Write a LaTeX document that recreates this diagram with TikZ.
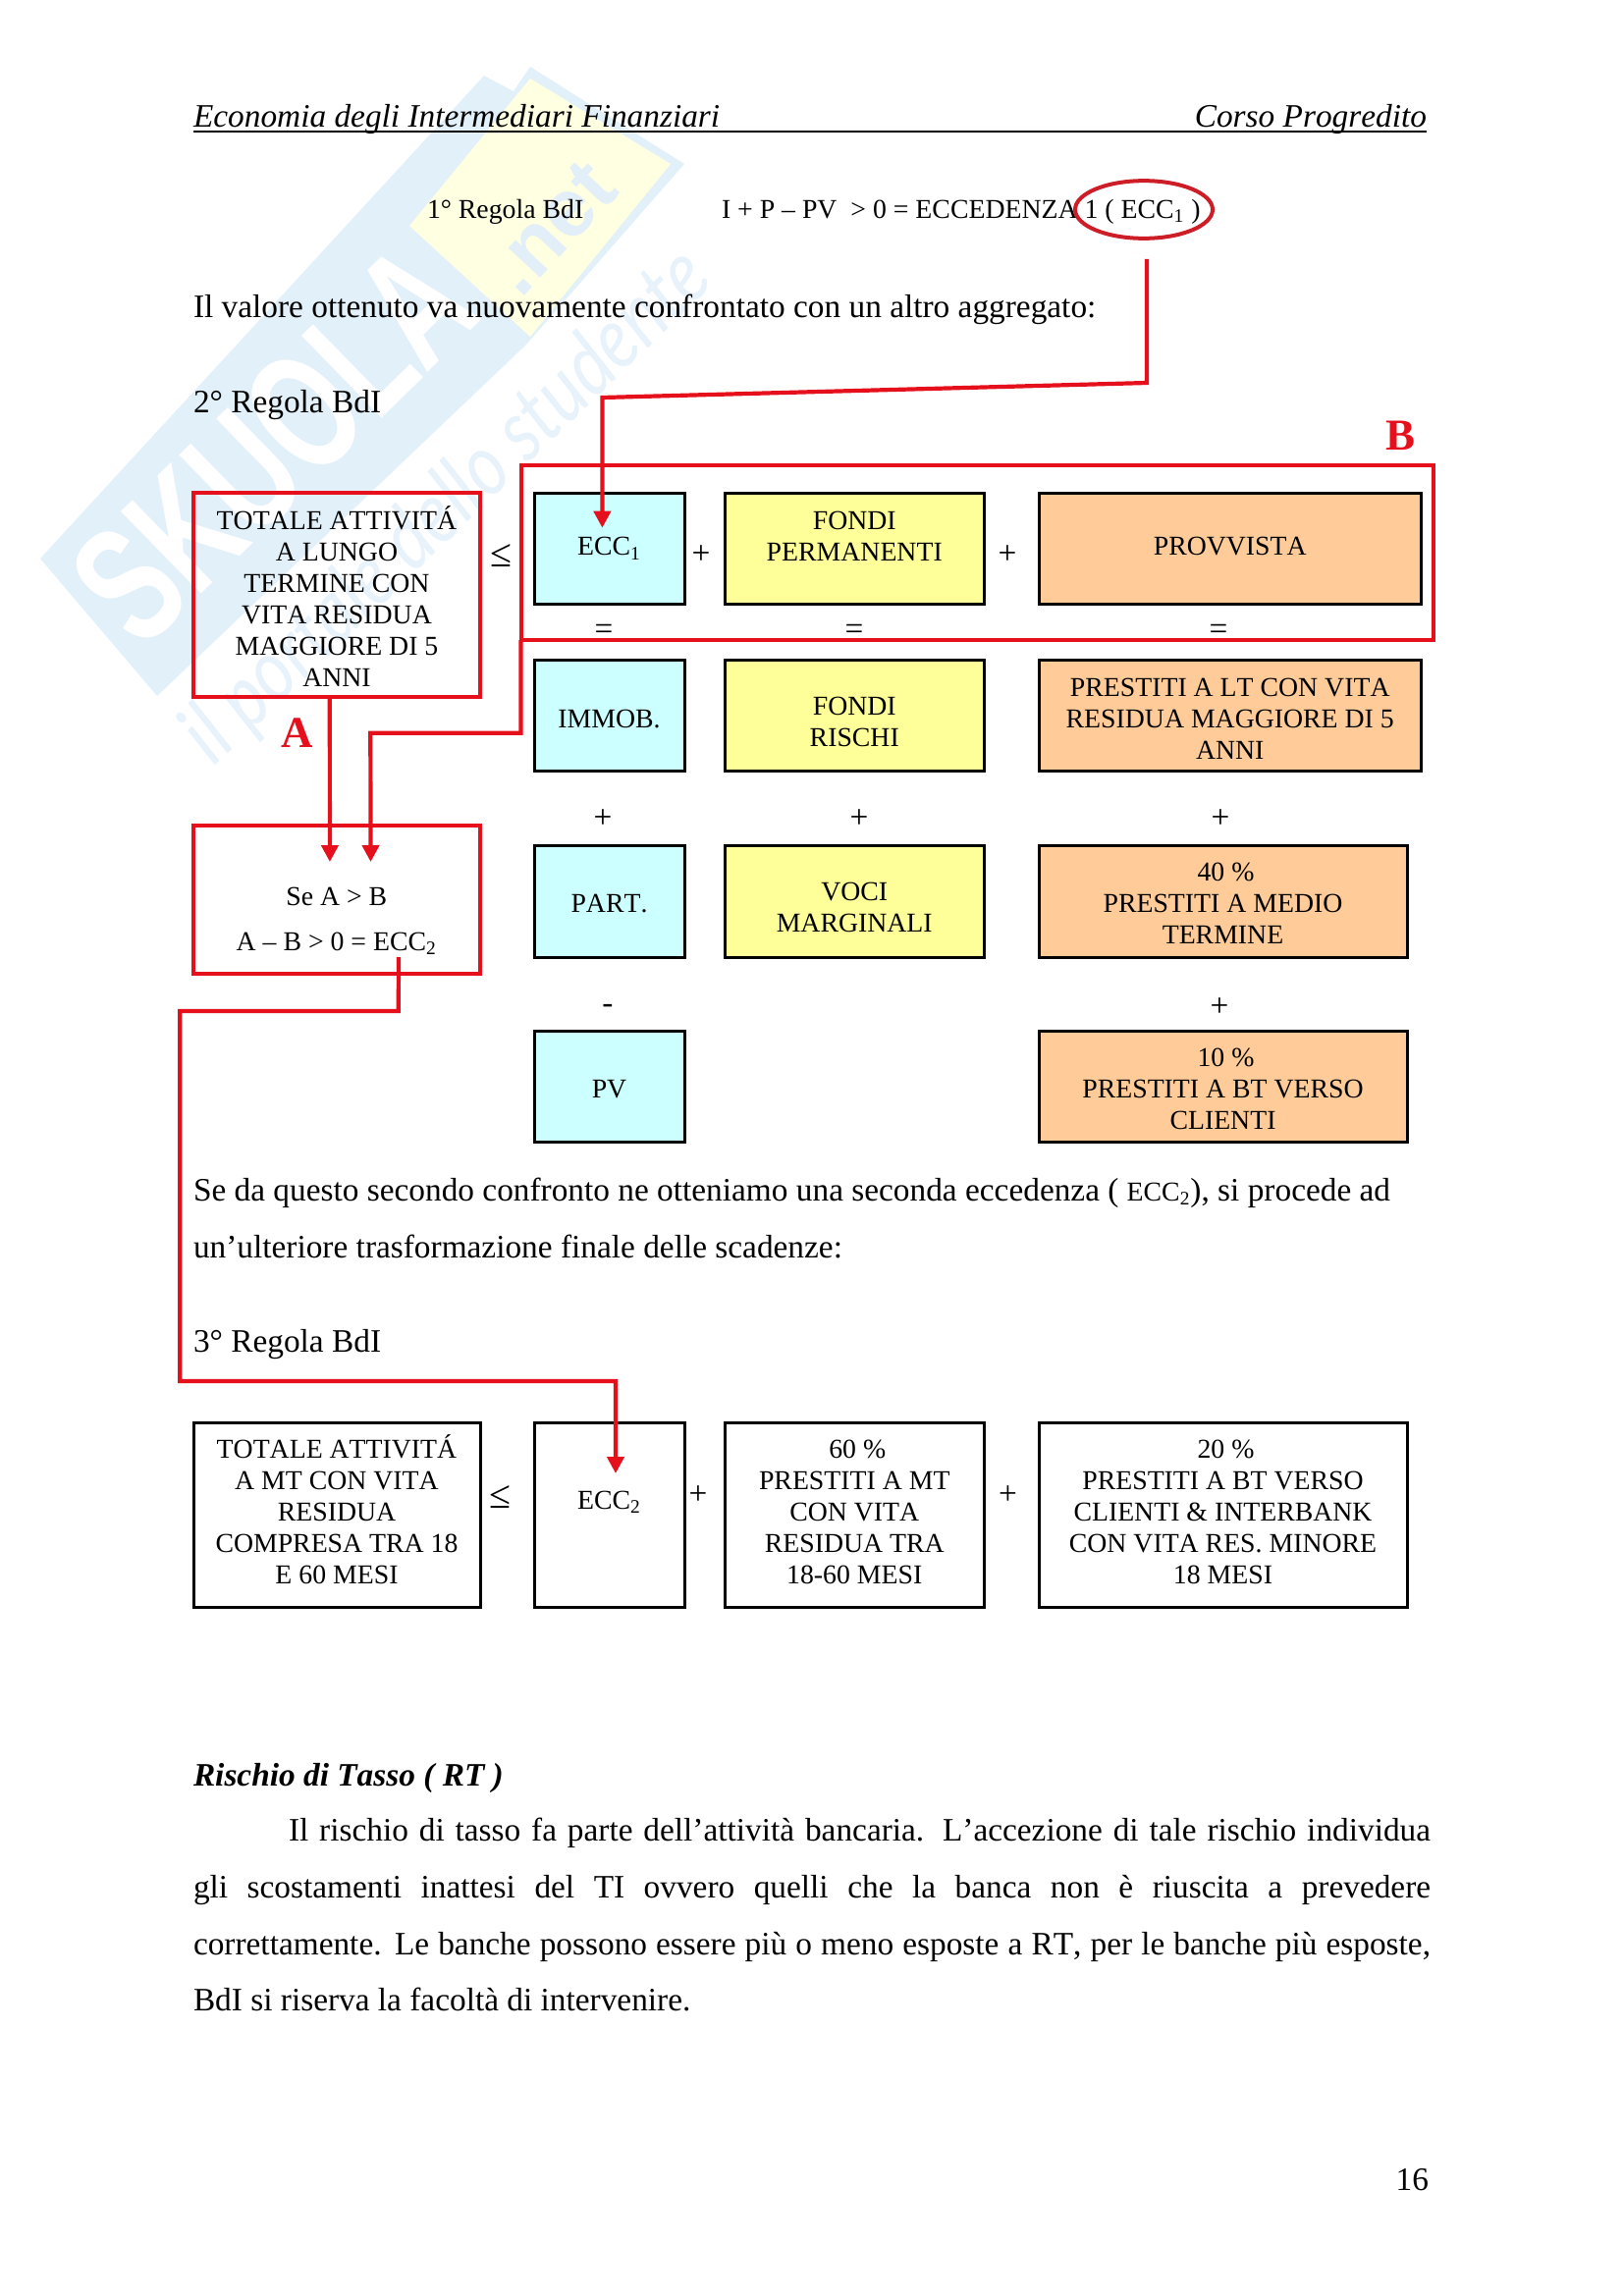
\documentclass[tikz,border=0pt]{standalone}
\usepackage{fontspec}
\setmainfont[Kerning=Off]{Liberation Serif}
\newfontfamily\wmfont{Liberation Sans}
\newfontfamily\wmhand{Lato}
\usetikzlibrary{shapes.geometric,arrows.meta}
\definecolor{redc}{RGB}{230,16,28}
\definecolor{redo}{RGB}{205,30,40}
\definecolor{cyanb}{RGB}{204,255,255}
\definecolor{yelb}{RGB}{255,255,153}
\definecolor{orab}{RGB}{255,204,153}
\definecolor{wmblue}{RGB}{226,240,249}
\definecolor{wmyel}{RGB}{255,255,226}
\definecolor{wmtxt}{RGB}{226,239,248}
\definecolor{wmtag}{RGB}{231,242,250}
\newcommand\boxtext[2]{\raisebox{\dimexpr-4.9pt-#1pt\relax}[0pt][0pt]{\begin{tabular}{@{}c@{}}#2\end{tabular}}}
\newcommand\abox[8]{\node[#6,minimum width={(#4-#2)*0.5pt},minimum height={(#5-#3)*0.5pt}] (#1) at ({(#2+#4)/2},{(#3+#5)/2}) {\boxtext{#7}{#8}};}
\newcommand\pct[1]{\hspace*{3pt}#1}
\tikzset{
  x=0.5pt,y=-0.5pt,
  pbox/.style={draw=black,line width=1.5pt,inner sep=0pt,outer sep=0pt,font=\fontsize{13.89}{16}\selectfont},
  rbox/.style={pbox,draw=redc,line width=2pt},
  body/.style={anchor=base west,inner sep=0pt,outer sep=0pt,font=\fontsize{16.67}{20}\selectfont},
  small/.style={anchor=base west,inner sep=0pt,outer sep=0pt,font=\fontsize{13.89}{16}\selectfont},
  sign/.style={inner sep=0pt,outer sep=0pt,font=\fontsize{16.67}{20}\selectfont},
  lesign/.style={inner sep=0pt,outer sep=0pt,font=\fontsize{20}{20}\selectfont},
  big/.style={anchor=base west,inner sep=0pt,outer sep=0pt,text=redc,font=\fontsize{22.5}{24}\selectfont\bfseries},
  redline/.style={draw=redc,line width=2.1pt,line join=miter},
  redarrow/.style={redline,-{Triangle[length=8.5pt,width=8.5pt]}},
}
\begin{document}
\begin{tikzpicture}
\useasboundingbox (0,0) rectangle (1653,2339);
% watermark
\fill[wmblue] (41,569) -- (493,77) -- (523,93) -- (540,68) -- (697,167) -- (536,351) -- (160,709) -- cycle;
\fill[wmyel] (540,80) -- (683,167) -- (540,343) -- (417,230) -- cycle;
\node[rotate=44.3,inner sep=0pt,text=white,font=\fontsize{85}{85}\selectfont\wmfont\bfseries] (wmname) at (278,452) {\scalebox{.68}[1]{SKUOLA}};
\node[rotate=47,inner sep=0pt,text=wmtxt,font=\fontsize{42}{42}\selectfont\wmfont\bfseries] (wmnet) at (562,232) {.net};
\node[rotate=44,inner sep=0pt,text=wmtag,font=\fontsize{44}{44}\selectfont\wmhand\itshape] (wmtag) at (456,517) {\scalebox{.83}[1]{il portale dello studente}};
% header
\node[body] (hl) at (197,130) {\itshape Economia degli Intermediari Finanziari};
\node[body,anchor=base east] (hr) at (1453,130) {\itshape Corso Progredito};
\coordinate (hla) at (197,134);
\coordinate (hlb) at (1453,134);
\draw[line width=.8pt] (hla) -- (hlb);
% text lines
\node[small] (r1) at (435,222.5) {1° Regola BdI};
\node[small] (f1) at (735,222.5) {I + P – PV\ \ > 0 = ECCEDENZA 1 ( ECC\textsubscript{1} )};
\node[body] (t1) at (197,323) {Il valore ottenuto va nuovamente confrontato con un altro aggregato:};
\node[body] (r2) at (197,420) {2° Regola BdI};
\node[body] (t2) at (197,1223) {Se da questo secondo confronto ne otteniamo una seconda eccedenza ( {\fontsize{13.89}{16}\selectfont ECC\textsubscript{2}}), si procede ad};
\node[body] (t3) at (197,1281) {un’ulteriore trasformazione finale delle scadenze:};
\node[body] (r3) at (197,1377) {3° Regola BdI};
\node[body] (h4) at (197,1819) {\bfseries\itshape Rischio di Tasso ( RT )};
\node[body] (p1) at (294,1875) {\makebox[581.5pt][s]{Il rischio di tasso fa parte dell’attività bancaria. L’accezione di tale rischio individua}};
\node[body] (p2) at (197,1933.7) {\makebox[630pt][s]{gli scostamenti inattesi del TI ovvero quelli che la banca non è riuscita a prevedere}};
\node[body] (p3) at (197,1991) {\makebox[630pt][s]{correttamente. Le banche possono essere più o meno esposte a RT, per le banche più esposte,}};
\node[body] (p4) at (197,2048.7) {BdI si riserva la facoltà di intervenire.};
\node[body,anchor=base east] (pg) at (1455,2231) {16};
% group B
\node[rbox,minimum width=464.95pt,minimum height=89pt] (bbox) at (995.5,563) {};
% row 1
\abox{atot}{197}{502}{489}{709.5}{rbox}{2}{TOTALE ATTIVITÁ\\A LUNGO\\TERMINE CON\\VITA RESIDUA\\MAGGIORE DI 5\\ANNI}
\abox{ecc}{544}{502}{697}{615.5}{pbox,fill=cyanb}{-1}{ECC\textsubscript{1}}
\abox{fperm}{738}{502}{1002.5}{615.5}{pbox,fill=yelb}{-6.3}{FONDI\\PERMANENTI}
\abox{prov}{1058}{502}{1447.5}{615.5}{pbox,fill=orab}{-1.3}{PROVVISTA}
% row 2
\abox{immob}{544}{672.5}{697}{785.5}{pbox,fill=cyanb}{1.7}{IMMOB.}
\abox{frisc}{738}{672.5}{1002.5}{785.5}{pbox,fill=yelb}{3}{FONDI\\RISCHI}
\abox{plt}{1058}{672.5}{1447.5}{785.5}{pbox,fill=orab}{1.5}{PRESTITI A LT CON VITA\\RESIDUA MAGGIORE DI 5\\ANNI}
% row 3
\abox{part}{544}{861}{697}{975}{pbox,fill=cyanb}{1.2}{PART.}
\abox{voci}{738}{861}{1002.5}{975}{pbox,fill=yelb}{3}{VOCI\\MARGINALI}
\abox{pmt}{1058}{861}{1433}{975}{pbox,fill=orab}{1.2}{\pct{40 \%}\\PRESTITI A MEDIO\\TERMINE}
% row 4
\abox{pv}{544}{1050}{697}{1163.5}{pbox,fill=cyanb}{1.5}{PV}
\abox{pbt}{1058}{1050}{1433}{1163.5}{pbox,fill=orab}{1.5}{\pct{10 \%}\\PRESTITI A BT VERSO\\CLIENTI}
% comparison
\abox{cmp}{197}{841}{488.5}{991.7}{rbox}{10}{Se A > B\\[7pt]A – B > 0 = ECC\textsubscript{2}}
% third rule
\abox{tmt}{197}{1449}{489}{1637.5}{pbox}{-1.5}{TOTALE ATTIVITÁ\\A MT CON VITA\\RESIDUA\\COMPRESA TRA 18\\E 60 MESI}
\abox{ecct}{544}{1449}{697}{1637.5}{pbox}{-7.5}{ECC\textsubscript{2}}
\abox{p60}{738}{1449}{1002.5}{1637.5}{pbox}{-1.5}{\pct{60 \%}\\PRESTITI A MT\\CON VITA\\RESIDUA TRA\\18-60 MESI}
\abox{p20}{1058}{1449}{1433}{1637.5}{pbox}{-1.5}{\pct{20 \%}\\PRESTITI A BT VERSO\\CLIENTI \& INTERBANK\\CON VITA RES. MINORE\\18 MESI}
% signs
\node[lesign] (s1) at (510,566) {≤};
\node[sign] (s2) at (714,565.5) {+};
\node[sign] (s3) at (1026,565.5) {+};
\node[sign] (e1) at (615,644) {=};
\node[sign] (e2) at (870,644) {=};
\node[sign] (e3) at (1241,644) {=};
\node[sign] (a1) at (614,834.5) {+};
\node[sign] (a2) at (875,834.5) {+};
\node[sign] (a3) at (1243,834.5) {+};
\node[sign] (m1) at (619,1027.5) {-};
\node[sign] (a4) at (1242,1026.5) {+};
\node[lesign] (s4) at (509,1525) {≤};
\node[sign] (s5) at (711,1523) {+};
\node[sign] (s6) at (1026.5,1523) {+};
% letters
\node[big] (la) at (286,761.5) {A};
\node[big] (lb) at (1411,458.5) {B};
% ellipse
\node[ellipse,draw=redo,line width=2pt,minimum width=70pt,minimum height=29.35pt,inner sep=0pt] (eccl) at (1165,213.5) {};
% connectors
\coordinate (c1a) at (1168,390);
\coordinate (c1b) at (613.4,405);
\draw[redarrow] ([xshift=1.5pt,yshift=-9.5pt]eccl.south) -- (c1a) -- (c1b) -- ([xshift=-3.55pt,yshift=-17.85pt]ecc.north);
\draw[redarrow] ([xshift=-3.6pt]atot.south) -- ([xshift=-3.4pt,yshift=-18.5pt]cmp.north);
\coordinate (c2b) at (377.3,746.7);
\draw[redarrow] (bbox.south west) |- (c2b) -- ([xshift=17.4pt,yshift=-18.5pt]cmp.north);
\coordinate (c3a) at (405.7,1030);
\coordinate (c3b) at (183.3,1030);
\coordinate (c3c) at (183.3,1407);
\coordinate (c3d) at (627,1407);
\draw[redarrow] ([xshift=31.65pt,yshift=8.35pt]cmp.south) -- (c3a) -- (c3b) -- (c3c) -- (c3d) -- ([xshift=3.25pt,yshift=-26pt]ecct.north);
\end{tikzpicture}
\end{document}
